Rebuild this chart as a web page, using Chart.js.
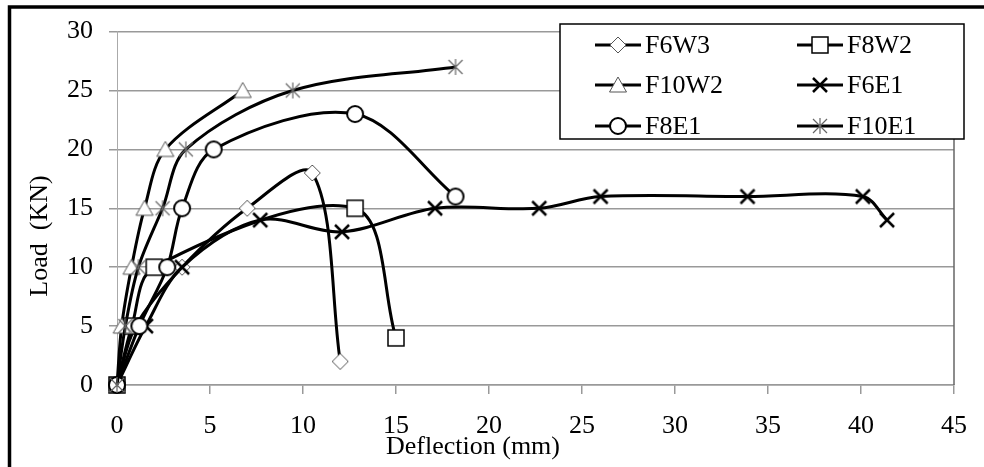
<!DOCTYPE html>
<html>
<head>
<meta charset="utf-8">
<script src="https://cdn.jsdelivr.net/npm/chart.js@4.4.1/dist/chart.umd.min.js"></script>
<style>
  html, body { margin: 0; padding: 0; background: #fff; }
  canvas { display: block; }
</style>
</head>
<body>
<canvas id="loadChart" width="984" height="467"></canvas>
<script>
const seriesNames = ['F6W3', 'F8W2', 'F10W2', 'F6E1', 'F8E1', 'F10E1'];

const f6w3X  = [0, 1.0, 3.5, 7.0, 10.5, 12.0];
const f6w3Y  = [0, 5, 10, 15, 18, 2];
const f8w2X  = [0, 0.8, 2.0, 12.8, 15.0];
const f8w2Y  = [0, 5, 10, 15, 4];
const f10w2X = [0, 0.25, 0.78, 1.48, 2.6, 6.76];
const f10w2Y = [0, 5, 10, 15, 20, 25];
const f6e1X  = [0, 1.55, 3.5, 7.7, 12.1, 17.1, 22.7, 26.0, 33.9, 40.1, 41.4];
const f6e1Y  = [0, 5, 10, 14, 13, 15, 15, 16, 16, 16, 14];
const f8e1X  = [0, 1.2, 2.7, 3.5, 5.2, 12.8, 18.2];
const f8e1Y  = [0, 5, 10, 15, 20, 23, 16];
const f10e1X = [0, 0.45, 1.15, 2.45, 3.7, 9.45, 18.2];
const f10e1Y = [0, 5, 10, 15, 20, 25, 27];

const xTicks = [0, 5, 10, 15, 20, 25, 30, 35, 40, 45];
const yTicks = [0, 5, 10, 15, 20, 25, 30];

const FONT = '"Liberation Serif", "Times New Roman", serif';

// marker glyphs, drawn once and reused for the plot and the legend
function makeMarker(kind) {
    const c = document.createElement('canvas');
    c.width = 22;
    c.height = 22;
    const g = c.getContext('2d');
    g.translate(11, 11);
    g.fillStyle = '#fff';
    if (kind === 'diamond') {
        g.beginPath();
        g.moveTo(0, -8); g.lineTo(8, 0); g.lineTo(0, 8); g.lineTo(-8, 0);
        g.closePath();
        g.fill();
        g.strokeStyle = '#555';
        g.lineWidth = 1;
        g.stroke();
    } else if (kind === 'square') {
        g.fillRect(-8, -8, 16, 16);
        g.strokeStyle = '#000';
        g.lineWidth = 1.5;
        g.strokeRect(-8, -8, 16, 16);
    } else if (kind === 'triangle') {
        g.beginPath();
        g.moveTo(0, -8); g.lineTo(8.5, 7); g.lineTo(-8.5, 7);
        g.closePath();
        g.fill();
        g.strokeStyle = '#555';
        g.lineWidth = 1;
        g.stroke();
    } else if (kind === 'cross') {
        g.strokeStyle = '#000';
        g.lineWidth = 2.5;
        g.beginPath();
        g.moveTo(-7, -7); g.lineTo(7, 7);
        g.moveTo(7, -7); g.lineTo(-7, 7);
        g.stroke();
    } else if (kind === 'circle') {
        g.beginPath();
        g.arc(0, 0, 8, 0, Math.PI * 2);
        g.fill();
        g.strokeStyle = '#000';
        g.lineWidth = 2;
        g.stroke();
    } else if (kind === 'asterisk') {
        g.strokeStyle = '#666';
        g.lineWidth = 1.2;
        g.beginPath();
        g.moveTo(0, -8); g.lineTo(0, 8);
        g.moveTo(-7, -7); g.lineTo(7, 7);
        g.moveTo(7, -7); g.lineTo(-7, 7);
        g.stroke();
    }
    return c;
}

const markers = ['diamond', 'square', 'triangle', 'cross', 'circle', 'asterisk'].map(makeMarker);
const seriesX = [f6w3X, f8w2X, f10w2X, f6e1X, f8e1X, f10e1X];
const seriesY = [f6w3Y, f8w2Y, f10w2Y, f6e1Y, f8e1Y, f10e1Y];

const datasets = seriesNames.map((name, i) => ({
    label: name,
    data: seriesX[i].map((x, j) => ({ x, y: seriesY[i][j] })),
    borderColor: '#000',
    borderWidth: 3,
    tension: 0.33,
    pointStyle: markers[i],
    pointRadius: 8,
    pointHoverRadius: 8,
    clip: false,
    order: seriesNames.length - i,
}));

const framePlugin = {
    id: 'frame',
    beforeDraw(chart) {
        const c = chart.ctx;
        c.save();
        c.fillStyle = '#fff';
        c.fillRect(0, 0, chart.width, chart.height);
        c.strokeStyle = '#000';
        c.lineWidth = 3.5;
        c.beginPath();
        c.moveTo(chart.width, 7);
        c.lineTo(9.5, 7);
        c.lineTo(9.5, chart.height);
        c.stroke();
        c.restore();
    },
    afterDraw(chart) {
        const c = chart.ctx;
        const a = chart.chartArea;
        c.save();
        // right edge of the plot area
        c.strokeStyle = '#666';
        c.lineWidth = 1.5;
        c.beginPath();
        c.moveTo(a.right, a.top);
        c.lineTo(a.right, a.bottom);
        c.stroke();

        // axis titles
        c.fillStyle = '#000';
        c.font = '26px ' + FONT;
        c.textAlign = 'center';
        c.textBaseline = 'alphabetic';
        c.fillText('Deflection (mm)', 473, 454);
        c.translate(40, 236);
        c.rotate(-Math.PI / 2);
        c.textBaseline = 'middle';
        c.fillText('Load  (KN)', 0, 0);
        c.restore();

        // legend box
        c.save();
        c.fillStyle = '#fff';
        c.fillRect(560, 24, 404, 115);
        c.strokeStyle = '#000';
        c.lineWidth = 1.5;
        c.strokeRect(560, 24, 404, 115);
        const cols = [595, 797];
        const rows = [45, 85, 126];
        c.font = '26px ' + FONT;
        c.textAlign = 'left';
        c.textBaseline = 'middle';
        seriesNames.forEach((name, i) => {
            const x0 = cols[i % 2];
            const y0 = rows[Math.floor(i / 2)];
            c.strokeStyle = '#000';
            c.lineWidth = 3;
            c.beginPath();
            c.moveTo(x0, y0);
            c.lineTo(x0 + 46, y0);
            c.stroke();
            c.drawImage(markers[i], x0 + 23 - 11, y0 - 11);
            c.fillStyle = '#000';
            c.fillText(name, x0 + 50, y0 + 1);
        });
        c.restore();
    },
};

new Chart(document.getElementById('loadChart'), {
    type: 'line',
    data: { datasets },
    options: {
        responsive: false,
        animation: false,
        events: [],
        layout: { padding: { left: 0, right: 15, top: 23, bottom: 0 } },
        plugins: {
            legend: { display: false },
            tooltip: { enabled: false },
        },
        scales: {
            x: {
                type: 'linear',
                min: xTicks[0],
                max: xTicks[xTicks.length - 1],
                afterFit: (s) => { s.height = 82; },
                afterBuildTicks: (s) => { s.ticks = xTicks.map(v => ({ value: v })); },
                ticks: { font: { family: FONT, size: 26 }, color: '#000', padding: 17, maxRotation: 0 },
                grid: { drawOnChartArea: false, drawTicks: true, tickLength: 9, color: '#999', lineWidth: 1.5 },
                border: { color: '#999', width: 1.5 },
            },
            y: {
                min: yTicks[0],
                max: yTicks[yTicks.length - 1],
                afterFit: (s) => { s.width = 117; },
                afterBuildTicks: (s) => { s.ticks = yTicks.map(v => ({ value: v })); },
                ticks: { font: { family: FONT, size: 26 }, color: '#000', padding: 16 },
                grid: { color: '#999', lineWidth: 1.5, tickLength: 8 },
                border: { color: '#aaa', width: 1 },
            },
        },
    },
    plugins: [framePlugin],
});
</script>
</body>
</html>
